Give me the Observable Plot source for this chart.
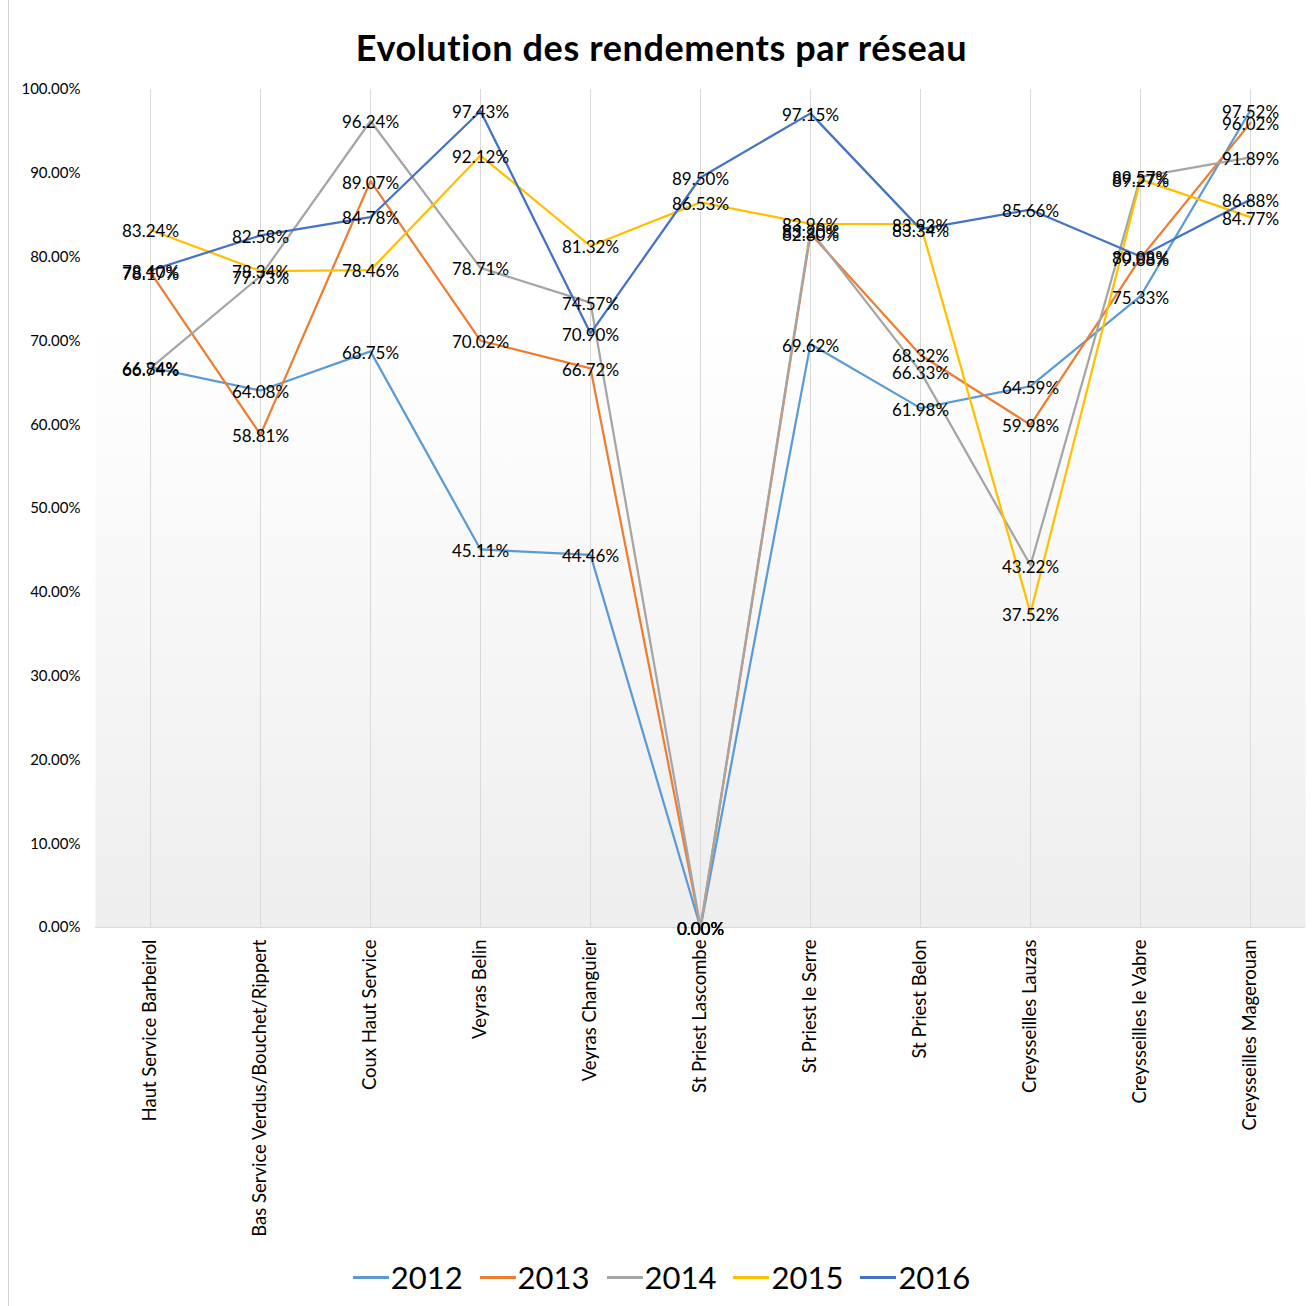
<!DOCTYPE html>
<html>
<head>
<meta charset="utf-8">
<script src="https://cdn.jsdelivr.net/npm/d3@7"></script>
<script src="https://cdn.jsdelivr.net/npm/@observablehq/plot@0.6"></script>
<style>
  html, body { margin: 0; padding: 0; background: #fff; }
  body { width: 1313px; height: 1306px; position: relative; overflow: hidden; font-family: Lato, "Noto Sans", sans-serif; }
  #border { position: absolute; left: 8px; top: 0; width: 0; height: 1306px; border-left: 1px solid #d0d0d0; }
  #title { position: absolute; left: 0; top: 25px; width: 1313px; text-align: center; font-size: 36px; font-weight: 700; color: #000; letter-spacing: 0.6px; padding-left: 10px; box-sizing: border-box; }
  #chart { position: absolute; left: 0; top: 75px; }
  #legend { position: absolute; left: 0; top: 1258px; width: 1313px; display: flex; justify-content: center; gap: 17px; font-size: 31px; color: #000; padding-left: 10px; box-sizing: border-box; }
  .item { display: flex; align-items: center; }
  .sw { width: 36px; height: 3px; margin-right: 2px; }
</style>
</head>
<body>
<div id="border"></div>
<div id="title">Evolution des rendements par réseau</div>
<div id="chart"></div>
<div id="legend"></div>
<script>
const categories = [
  "Haut Service Barbeirol",
  "Bas Service Verdus/Bouchet/Rippert",
  "Coux Haut Service",
  "Veyras Belin",
  "Veyras Changuier",
  "St Priest Lascombe",
  "St Priest le Serre",
  "St Priest Belon",
  "Creysseilles Lauzas",
  "Creysseilles le Vabre",
  "Creysseilles Magerouan"
];
const years = ["2012", "2013", "2014", "2015", "2016"];
const colors = ["#5B9BD5", "#ED7D31", "#A5A5A5", "#FFC000", "#4472C4"];
const v2012 = [66.84, 64.08, 68.75, 45.11, 44.46, 0, 69.62, 61.98, 64.59, 75.33, 97.52];
const v2013 = [78.17, 58.81, 89.07, 70.02, 66.72, 0, 82.80, 68.32, 59.98, 79.88, 96.02];
const v2014 = [66.74, 77.73, 96.24, 78.71, 74.57, 0, 83.20, 66.33, 43.22, 89.57, 91.89];
const v2015 = [83.24, 78.34, 78.46, 92.12, 81.32, 86.53, 83.96, 83.93, 37.52, 89.27, 84.77];
const v2016 = [78.40, 82.58, 84.78, 97.43, 70.90, 89.50, 97.15, 83.34, 85.66, 80.08, 86.88];
const yTicks = [0, 10, 20, 30, 40, 50, 60, 70, 80, 90, 100];

const series = [v2012, v2013, v2014, v2015, v2016];
const data = [];
years.forEach((yr, i) => {
  categories.forEach((c, j) => data.push({year: yr, cat: c, value: series[i][j]}));
});
const fmt = d => d.toFixed(2) + "%";

const chart = Plot.plot({
  width: 1313,
  height: 1175,
  marginLeft: 95,
  marginRight: 8,
  marginTop: 14,
  marginBottom: 323,
  style: {fontFamily: "Lato, 'Noto Sans', sans-serif", fontSize: "15px", color: "#000", background: "transparent"},
  x: {type: "point", domain: categories, padding: 0.5, label: null},
  y: {domain: [0, 100], label: null},
  color: {domain: years, range: colors},
  marks: [
    Plot.frame({fill: "url(#bggrad)", stroke: null}),
    Plot.gridX(categories, {stroke: "#d9d9d9", strokeOpacity: 1}),
    Plot.ruleY([0], {stroke: "#d9d9d9"}),
    Plot.axisY(yTicks, {tickSize: 0, tickPadding: 15, tickFormat: fmt, fontSize: 15}),
    Plot.axisX({tickSize: 0, tickPadding: 12, tickRotate: -90, fontSize: 18.5}),
    Plot.line(data, {x: "cat", y: "value", z: "year", stroke: "year", strokeWidth: 2.25}),
    Plot.text(data, {x: "cat", y: "value", text: d => fmt(d.value), fill: "#000", fontSize: 17, dy: 2})
  ]
});
const svgNS = "http://www.w3.org/2000/svg";
const defs = document.createElementNS(svgNS, "defs");
defs.innerHTML = '<linearGradient id="bggrad" x1="0" y1="0" x2="0" y2="1">' +
  '<stop offset="0" stop-color="#ffffff"/><stop offset="0.28" stop-color="#ffffff"/>' +
  '<stop offset="1" stop-color="#eeeeee"/></linearGradient>';
chart.insertBefore(defs, chart.firstChild);
document.getElementById("chart").appendChild(chart);

const legend = document.getElementById("legend");
years.forEach((yr, i) => {
  const it = document.createElement("div");
  it.className = "item";
  const sw = document.createElement("div");
  sw.className = "sw";
  sw.style.background = colors[i];
  const t = document.createElement("span");
  t.textContent = yr;
  it.appendChild(sw); it.appendChild(t);
  legend.appendChild(it);
});
</script>
</body>
</html>
